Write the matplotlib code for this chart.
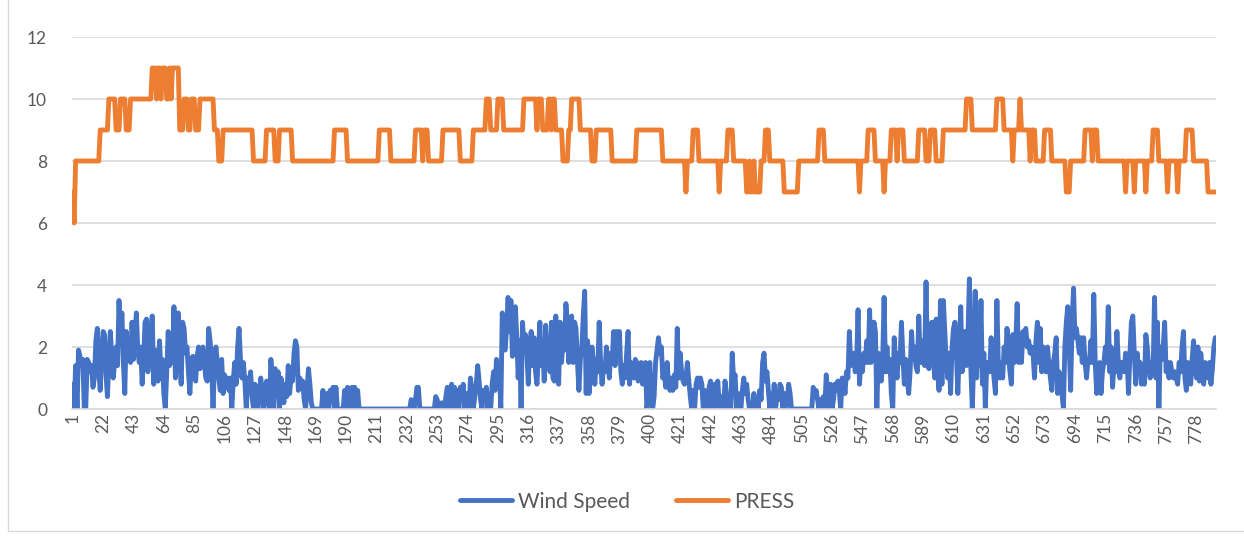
#!/usr/bin/env python3
"""
Wind speed and pressure class per record, drawn as two line series on one axis.
"""

import numpy as np
import matplotlib
matplotlib.use('Agg')
import matplotlib.pyplot as plt
from matplotlib.patches import Rectangle

# Pressure class is a step series, stored as (level, run length) pairs
press_level = [7, 6, 8, 9, 10, 9, 10, 9, 10, 11, 10, 11, 10, 11, 10, 11, 10, 11,
               9, 10, 9, 10, 9, 10, 9, 8, 9, 8, 9, 8, 9, 8, 9, 8, 9, 8, 9, 8, 9, 8,
               9, 8, 9, 10, 9, 10, 9, 10, 9, 10, 9, 10, 9, 10, 9, 8, 9, 10, 9, 8,
               9, 8, 9, 8, 7, 8, 9, 8, 7, 8, 9, 8, 7, 8, 7, 8, 7, 8, 9, 8, 7, 8,
               9, 8, 7, 8, 9, 8, 7, 8, 9, 8, 9, 8, 9, 8, 9, 8, 9, 10, 9, 10, 9, 8,
               9, 10, 9, 8, 9, 8, 9, 8, 7, 8, 9, 8, 9, 8, 7, 8, 7, 8, 7, 8, 9, 8,
               7, 8, 7, 8, 9, 8, 7]
press_run = [1, 1, 17, 6, 5, 3, 4, 3, 15, 3, 1, 2, 1, 3, 2, 1, 1, 5,
             3, 3, 2, 3, 3, 10, 3, 3, 21, 9, 6, 3, 9, 29, 9, 22, 8, 17, 5, 1, 3, 10,
             12, 9, 9, 3, 5, 4, 14, 9, 1, 3, 4, 2, 1, 2, 5, 4, 2, 6, 8, 3,
             11, 17, 18, 16, 1, 4, 4, 14, 1, 5, 4, 9, 2, 1, 2, 1, 4, 3, 3, 10, 10, 14,
             4, 24, 1, 5, 5, 6, 1, 4, 4, 1, 4, 10, 5, 3, 4, 5, 16, 4, 17, 5, 6, 1,
             4, 1, 6, 1, 3, 6, 5, 10, 3, 10, 5, 1, 3, 19, 1, 5, 1, 7, 1, 4, 4, 6,
             1, 6, 1, 5, 5, 10, 6]

wind_speed = [
    # 1-65
    0.8, 0.0, 1.4, 0.0, 1.9, 1.7, 1.4, 1.6, 0.0, 0.0,
    1.6, 1.5, 1.2, 1.4, 0.7, 1.0, 2.2, 2.6, 1.3, 0.6,
    1.8, 2.5, 2.4, 1.1, 0.4, 1.6, 2.5, 1.7, 1.0, 1.5,
    2.0, 1.4, 3.5, 2.1, 3.1, 1.5, 0.5, 2.5, 1.8, 2.0,
    1.5, 2.8, 1.6, 2.3, 3.1, 1.9, 1.5, 2.0, 0.8, 1.6,
    2.8, 2.9, 1.2, 2.0, 2.6, 3.0, 0.8, 1.9, 1.4, 0.9,
    2.2, 1.2, 1.6, 0.5, 0.0,
    # 66-132
    1.2, 2.5, 1.4, 2.0, 1.5, 3.3, 1.0, 2.2, 3.1, 1.6,
    0.8, 2.8, 2.6, 1.8, 2.0, 1.2, 0.5, 1.5, 1.7, 1.2,
    0.9, 1.7, 2.0, 1.3, 1.9, 2.0, 1.5, 1.0, 0.9, 2.6,
    2.2, 1.5, 0.0, 1.4, 2.0, 1.5, 1.0, 0.6, 1.6, 0.5,
    1.1, 0.8, 1.0, 0.6, 1.0, 0.0, 0.9, 1.5, 0.8, 2.0,
    2.6, 1.6, 1.0, 1.5, 0.9, 0.0, 1.0, 0.8, 1.2, 0.4,
    0.0, 0.8, 0.6, 0.0, 0.4, 1.0, 0.6,
    # 133-198
    0.0, 0.5, 0.9, 0.3, 0.0, 1.6, 1.0, 0.0,
    1.3, 0.7, 1.2, 0.0, 1.0, 0.6, 0.2, 0.8, 0.4, 1.4,
    0.5, 1.1, 0.9, 1.8, 2.2, 2.0, 0.6, 1.0, 0.7, 0.9,
    0.3, 0.0, 0.6, 1.3, 0.8, 0.2, 0.0, 0.0, 0.0, 0.0,
    0.0, 0.0, 0.0, 0.6, 0.0, 0.0, 0.5, 0.0, 0.6, 0.3,
    0.7, 0.0, 0.7, 0.0, 0.0, 0.0, 0.0, 0.0, 0.6, 0.0,
    0.7, 0.5, 0.0, 0.7, 0.0, 0.7, 0.0, 0.6,
    # 199-264
    0.0, 0.0, 0.0, 0.0, 0.0, 0.0, 0.0, 0.0, 0.0, 0.0,
    0.0, 0.0, 0.0, 0.0, 0.0, 0.0, 0.0, 0.0, 0.0, 0.0,
    0.0, 0.0, 0.0, 0.0, 0.0, 0.0, 0.0, 0.0, 0.0, 0.0,
    0.0, 0.0, 0.0, 0.0, 0.0, 0.0,
    0.3, 0.2, 0.0, 0.3, 0.7, 0.7, 0.0,
    0.0, 0.0, 0.0, 0.0, 0.0, 0.0, 0.0, 0.0, 0.0, 0.0,
    0.4, 0.3, 0.0, 0.0, 0.2, 0.0, 0.0, 0.4, 0.7, 0.0, 0.5, 0.8, 0.0,
    # 265-331
    0.7, 0.0, 0.6, 0.0, 0.7, 0.5, 0.8, 0.0, 0.5, 0.3,
    0.0, 1.0, 0.6, 0.0, 0.4, 0.8, 1.4, 0.9, 0.3, 0.0,
    0.6, 0.5, 0.7, 0.0, 0.4, 0.0, 0.8, 1.2, 0.6, 1.6,
    0.8, 1.2, 0.0, 3.1, 2.0, 1.9, 2.6, 3.6, 2.5, 3.5,
    1.7, 2.3, 3.3, 2.4, 1.0, 2.2, 0.0, 2.8, 2.0, 2.4,
    1.8, 0.8, 2.1, 2.5, 1.4, 2.3, 1.2, 0.8, 1.8, 2.8,
    1.4, 2.0, 0.9, 2.7, 1.6, 2.2, 1.2,
    # 332-398
    2.8, 1.0, 0.9, 3.0, 1.5, 0.8, 2.8, 1.5, 2.2, 1.9,
    3.4, 2.8, 1.5, 2.4, 3.0, 1.5, 2.8, 2.6, 1.5, 0.6,
    1.6, 2.0, 3.0, 3.8, 0.5, 2.2, 0.5, 1.0, 2.0, 1.5,
    0.8, 1.6, 1.2, 2.8, 1.5, 0.8, 1.4, 1.2, 2.0, 1.5,
    1.0, 1.8, 1.5, 2.5, 1.4, 2.5, 2.2, 2.5, 1.2, 0.8,
    1.4, 1.0, 1.8, 2.5, 0.8, 1.5, 1.2, 1.0, 1.6, 1.5,
    0.9, 1.3, 1.5, 0.8, 1.2, 1.5, 0.0,
    # 399-464
    0.5, 1.5, 0.3, 0.0, 0.4, 1.5, 1.9, 2.3, 1.8, 2.0,
    1.0, 1.2, 0.7, 1.5, 0.8, 0.6, 1.0, 0.6, 1.1, 0.7,
    2.6, 1.0, 1.8, 1.2, 0.9, 0.8, 1.0, 1.5, 0.9, 0.4,
    0.0, 0.6, 0.0, 0.8, 1.0, 0.7, 1.0, 0.8, 0.0, 0.6,
    0.0, 0.0, 0.7, 0.9, 0.0, 0.3, 0.8, 0.0, 0.9, 0.2,
    0.0, 0.4, 0.0, 0.9, 0.5, 0.0, 0.3, 0.0, 1.8, 0.9,
    1.1, 0.0, 0.5, 0.3, 0.0, 0.6,
    # 465-530
    1.0, 0.5, 0.8, 0.3, 0.0, 0.0, 0.0, 0.5, 0.0, 0.2,
    0.0, 0.6, 0.3, 1.5, 1.8, 0.9, 1.2, 0.6, 0.0, 0.5,
    0.0, 0.8, 0.0, 0.5, 0.3, 0.8, 0.7, 0.0, 0.5, 0.0,
    0.2, 0.8, 0.5, 0.0, 0.0, 0.0, 0.0, 0.0, 0.0, 0.0,
    0.0, 0.0, 0.0, 0.0, 0.0, 0.0, 0.0, 0.0, 0.7, 0.4,
    0.6, 0.3, 0.0, 0.3, 0.0, 0.4, 0.0, 1.1, 0.5, 0.0,
    0.8, 0.0, 0.3, 0.8, 0.6, 0.9,
    # 531-597
    0.6, 0.0, 1.0, 0.9, 0.5, 1.2, 1.0, 2.5, 1.4, 1.6,
    1.8, 1.2, 1.5, 3.2, 0.8, 1.6, 1.2, 1.8, 1.5, 2.2,
    1.5, 3.2, 1.5, 2.0, 2.8, 2.5, 0.0, 1.8, 1.2, 0.9,
    1.5, 3.6, 1.2, 2.0, 1.2, 1.6, 0.5, 0.0, 2.3, 1.4,
    1.0, 1.8, 1.5, 2.8, 1.7, 0.8, 1.6, 1.0, 0.5, 1.2,
    2.5, 1.6, 2.0, 1.4, 1.2, 3.0, 1.5, 1.5, 2.2, 1.4,
    4.1, 1.5, 1.3, 2.0, 2.8, 1.8, 1.0,
    # 598-663
    2.9, 1.2, 0.6, 3.5, 0.8, 3.5, 2.5, 1.5, 1.0, 1.8,
    0.5, 2.0, 2.6, 2.8, 1.8, 0.5, 1.9, 3.3, 1.2, 1.8,
    2.5, 1.4, 2.4, 4.2, 1.3, 0.0, 1.6, 3.8, 1.0, 2.5,
    1.4, 3.5, 0.8, 1.8, 0.0, 1.5, 1.5, 1.2, 2.3, 1.6,
    1.0, 0.5, 3.5, 1.4, 1.0, 1.5, 1.0, 2.0, 1.5, 2.6,
    1.8, 1.2, 0.8, 2.4, 1.5, 2.0, 3.4, 1.5, 2.0, 1.5,
    2.5, 2.3, 2.6, 2.0, 2.2, 1.8,
    # 664-730
    2.0, 1.8, 1.0, 2.2, 2.8, 1.5, 2.6, 1.2, 2.0, 1.5,
    1.2, 2.0, 1.4, 1.0, 0.6, 1.5, 1.8, 2.3, 0.5, 1.2,
    0.7, 0.5, 0.0, 2.0, 2.8, 3.3, 2.0, 0.6, 2.8, 3.9,
    2.3, 2.6, 2.2, 1.8, 2.3, 1.5, 2.3, 1.5, 1.0, 1.6,
    1.5, 2.2, 1.5, 3.7, 1.5, 0.5, 1.2, 1.5, 0.5, 1.2,
    1.5, 2.0, 1.5, 3.3, 1.2, 2.0, 0.7, 1.5, 1.2, 2.5,
    1.5, 1.0, 1.5, 1.5, 1.2, 1.8, 1.6,
    # 731-791
    0.5, 1.8, 2.8, 3.0, 1.8, 0.8, 1.8, 1.2, 1.5, 0.8,
    1.2, 0.8, 2.4, 2.0, 1.3, 1.0, 1.5, 1.2, 3.6, 1.0,
    2.8, 0.0, 2.0, 1.6, 2.0, 2.8, 1.2, 1.5, 1.0, 1.5,
    1.2, 1.0, 1.2, 1.0, 0.8, 1.5, 1.2, 2.0, 2.5, 1.0,
    0.6, 1.5, 1.4, 0.8, 1.6, 2.2, 1.4, 1.0, 2.0, 0.9,
    1.8, 1.2, 0.8, 1.5, 1.2, 1.0, 1.5, 0.8, 1.3, 2.0, 2.3,
]

series_names = ['Wind Speed', 'PRESS']
series_colors = ['#4472C4', '#ED7D31']
y_ticks = [0, 2, 4, 6, 8, 10, 12]
label_step = 21

TEXT = '#595959'
GRID = '#D9D9D9'


def main():
    press = np.repeat(press_level, press_run)
    wind = np.array(wind_speed)
    n = max(len(press), len(wind))

    plt.rcParams['font.family'] = ['Lato', 'DejaVu Sans']

    fig = plt.figure(figsize=(12.44, 5.36), dpi=100)
    ax = fig.add_axes([72 / 1244, 1 - 409 / 536, (1216 - 72) / 1244, (409 - 37) / 536])

    # outer chart border
    fig.add_artist(Rectangle((8 / 1244, 5 / 536), 1.2, 1.2, transform=fig.transFigure,
                             fill=False, edgecolor=GRID, linewidth=1.0))

    for vals, name, col in zip([wind, press], series_names, series_colors):
        ax.plot(np.arange(1, len(vals) + 1), vals, color=col, linewidth=3.5,
                label=name, solid_joinstyle='round', solid_capstyle='round')

    ax.set_xlim(0.5, n + 0.5)
    ax.set_ylim(0, 12)
    ax.set_yticks(y_ticks)
    ax.yaxis.grid(True, color=GRID, linewidth=1.2)
    ax.set_axisbelow(True)

    xt = np.arange(1, n + 1, label_step)
    ax.set_xticks(xt)
    ax.set_xticklabels([str(v) for v in xt], rotation=90)

    for side in ['top', 'right', 'left']:
        ax.spines[side].set_visible(False)
    ax.spines['bottom'].set_color(GRID)
    ax.spines['bottom'].set_linewidth(1.2)

    ax.tick_params(axis='y', length=0, pad=18, labelsize=12.5, labelcolor=TEXT)
    ax.tick_params(axis='x', length=0, pad=3, labelsize=12.5, labelcolor=TEXT)

    leg = fig.legend(loc='center', bbox_to_anchor=(0.504, 0.064), ncol=2, frameon=False,
                     fontsize=15, handlelength=2.5, columnspacing=2.2, handletextpad=0.3)
    for t in leg.get_texts():
        t.set_color(TEXT)

    plt.savefig('out.png', dpi=100, facecolor='white')
    plt.close()


if __name__ == "__main__":
    main()
